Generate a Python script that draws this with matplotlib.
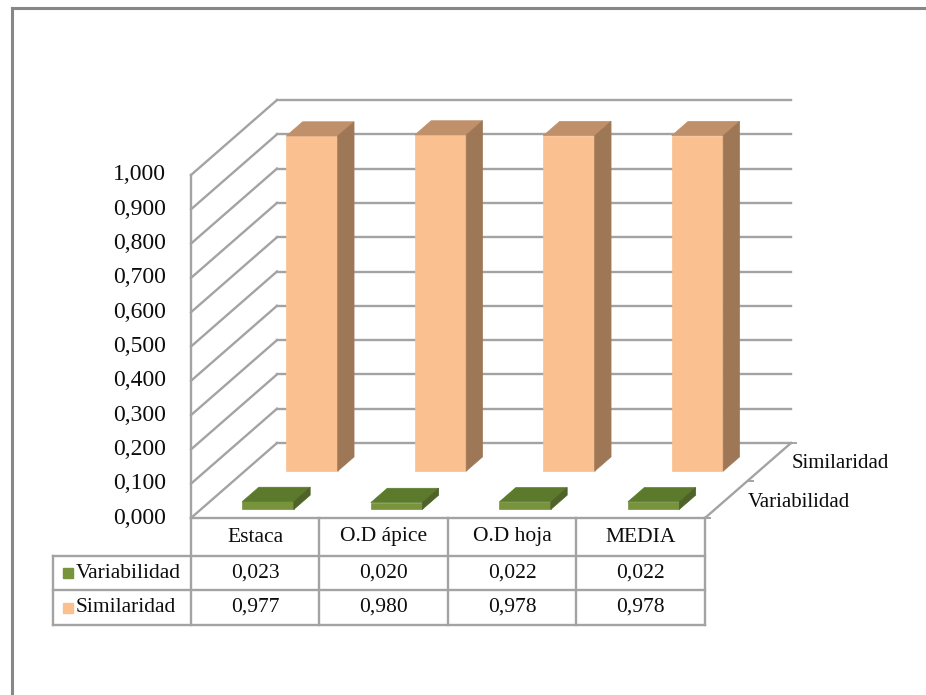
import matplotlib
matplotlib.use("Agg")
import matplotlib.pyplot as plt
from matplotlib.patches import Polygon
from matplotlib.lines import Line2D

# data
categories = ["Estaca", "O.D ápice", "O.D hoja", "MEDIA"]
series_names = ["Variabilidad", "Similaridad"]
variabilidad = [0.023, 0.020, 0.022, 0.022]
similaridad = [0.977, 0.980, 0.978, 0.978]
y_ticks = [0.0, 0.1, 0.2, 0.3, 0.4, 0.5, 0.6, 0.7, 0.8, 0.9, 1.0]

series_values = [variabilidad, similaridad]
# (front, top, side) colours per series
series_colors = [("#77933C", "#5C7A2C", "#4F6228"),
                 ("#FAC090", "#C0906A", "#9E7856")]
depth_centers = [0.21, 0.72]
half_depth = 0.095
half_width = 0.2

plt.rcParams['font.family'] = ['Liberation Serif', 'DejaVu Serif']

# layout in pixels (figure is 926 x 695 at 100 dpi)
W, H = 926, 695
ORIGIN_X, ORIGIN_Y = 191, 518      # front-left corner of floor
CAT_PX, UNIT_PX = 128.5, 343.0     # one category / one value unit
DX = 86 / CAT_PX                   # full depth shift, category units
DY = 75 / UNIT_PX                  # full depth shift, value units
BAR_SHIFT = 3 / CAT_PX
GRID = "#A3A3A3"
TXT = "#0D0D0D"


def proj(x, v, d):
    return (x + d * DX, v + d * DY)


fig = plt.figure(figsize=(W / 100, H / 100), dpi=100)
ax = fig.add_axes([0, 0, 1, 1])
ax.set_xlim(-0.5 - ORIGIN_X / CAT_PX, -0.5 + (W - ORIGIN_X) / CAT_PX)
ax.set_ylim(-(H - ORIGIN_Y) / UNIT_PX, ORIGIN_Y / UNIT_PX)
ax.axis("off")

n = len(categories)
xl, xr = -0.5, n - 0.5

# walls: back gridlines + left diagonals
for t in y_ticks:
    (x1, y1), (x2, y2) = proj(xl, t, 1), proj(xr, t, 1)
    ax.plot([x1, x2], [y1, y2], color=GRID, lw=1.7, zorder=1)
    (x1, y1), (x2, y2) = proj(xl, t, 0), proj(xl, t, 1)
    ax.plot([x1, x2], [y1, y2], color=GRID, lw=1.7, zorder=1)
    ax.text(xl - 25 / CAT_PX, t, f"{t:.3f}".replace(".", ","),
            ha="right", va="center", fontsize=17, color=TXT)
ax.plot([xl, xl], [0, max(y_ticks)], color=GRID, lw=1.7, zorder=1)

# floor right edge with small ticks
(x1, y1), (x2, y2) = proj(xr, 0, 0), proj(xr, 0, 1)
ax.plot([x1, x2], [y1, y2], color=GRID, lw=1.7, zorder=1)
for d in (0.0, 0.5, 1.0):
    px, py = proj(xr, 0, d)
    ax.plot([px, px + 5 / CAT_PX], [py, py], color=GRID, lw=1.4, zorder=1)

# bars, back row first
for s in (1, 0):
    front, top, side = series_colors[s]
    d0 = depth_centers[s] - half_depth
    d1 = depth_centers[s] + half_depth
    for i, val in enumerate(series_values[s]):
        a, b = i - half_width + BAR_SHIFT, i + half_width + BAR_SHIFT
        faces = [
            ([proj(a, 0, d0), proj(b, 0, d0), proj(b, val, d0), proj(a, val, d0)], front),
            ([proj(a, val, d0), proj(b, val, d0), proj(b, val, d1), proj(a, val, d1)], top),
            ([proj(b, 0, d0), proj(b, 0, d1), proj(b, val, d1), proj(b, val, d0)], side),
        ]
        for pts, c in faces:
            ax.add_patch(Polygon(pts, closed=True, facecolor=c, edgecolor=c,
                                 lw=0.5, zorder=3))
    # depth axis label
    px, py = proj(xr, 0, depth_centers[s])
    ax.text(px + 25 / CAT_PX, py, series_names[s], ha="left", va="center",
            fontsize=15, color=TXT)

# data table
row_edges = [0, -38 / UNIT_PX, -72 / UNIT_PX, -107 / UNIT_PX]
label_left = xl - 138 / CAT_PX
ax.plot([xl, xr], [0, 0], color=GRID, lw=1.7, zorder=2)
for yv in row_edges[1:]:
    ax.plot([label_left, xr], [yv, yv], color=GRID, lw=1.7, zorder=2)
for k in range(n + 1):
    ax.plot([xl + k, xl + k], [row_edges[0], row_edges[-1]], color=GRID, lw=1.7, zorder=2)
ax.plot([label_left, label_left], [row_edges[1], row_edges[-1]], color=GRID, lw=1.7, zorder=2)

for i, cat in enumerate(categories):
    ax.text(i, (row_edges[0] + row_edges[1]) / 2, cat, ha="center", va="center",
            fontsize=15.5, color=TXT)
for s in range(2):
    yc = (row_edges[s + 1] + row_edges[s + 2]) / 2
    ax.plot([label_left + 15 / CAT_PX], [yc], marker="s", ms=7.5,
            color=series_colors[s][0], mec=series_colors[s][0])
    ax.text(label_left + 23 / CAT_PX, yc, series_names[s], ha="left", va="center",
            fontsize=15.5, color=TXT)
    for i, val in enumerate(series_values[s]):
        ax.text(i, yc, f"{val:.3f}".replace(".", ","), ha="center", va="center",
                fontsize=15.5, color=TXT)

# chart frame (left and top edges visible)
fx, fy = 12 / W, 1 - 8 / H
fig.add_artist(Line2D([fx, fx], [0, fy], transform=fig.transFigure,
                      color="#878787", lw=2.2))
fig.add_artist(Line2D([fx, 1], [fy, fy], transform=fig.transFigure,
                      color="#878787", lw=2.2))

fig.savefig("out.png", dpi=100, facecolor="white")
